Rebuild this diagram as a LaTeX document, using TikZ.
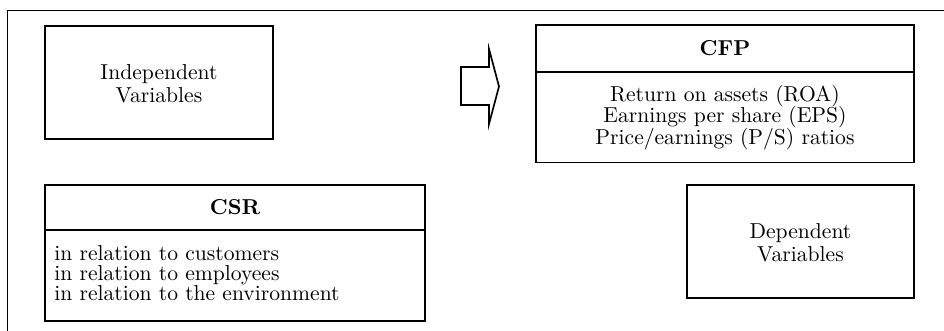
\documentclass[tikz,border=0pt]{standalone}
\begin{document}
\begin{tikzpicture}[x=0.5pt,y=-0.5pt,
  frameline/.style={draw, line width=0.85pt},
  box/.style={draw, line width=0.85pt, inner sep=0pt, outer sep=0pt},
  divider/.style={draw, line width=0.85pt},
  varlabel/.style={font=\fontsize{10.8}{11.5}\selectfont, align=center, inner sep=0pt},
  heading/.style={font=\fontsize{10.8}{12}\selectfont\bfseries, inner sep=0pt},
  itemsc/.style={font=\fontsize{10.8}{10.8}\selectfont, align=center, inner sep=0pt},
  itemsl/.style={font=\fontsize{10.8}{10}\selectfont, align=left, inner sep=0pt},
  blockarrow/.style={draw, line width=0.85pt, line join=miter}]
\useasboundingbox (0,0) rectangle (944,331);

% open frame: top and left rules
\draw[frameline] (944,10.5) -- (7.5,10.5) -- (7.5,331);

% boxes
\node[box, minimum width=114pt, minimum height=56.5pt] (indep) at (159,82.5) {};
\node[box, minimum width=189pt, minimum height=68.6pt] (cfp) at (725,93.9) {};
\node[box, minimum width=190pt, minimum height=68.1pt] (csr) at (235,252.9) {};
\node[box, minimum width=113.5pt, minimum height=56.6pt] (dep) at (800.5,241.4) {};

% header rules
\coordinate (cfpdiv) at (725,71.7);
\coordinate (csrdiv) at (235,230);
\draw[divider] (cfp.west |- cfpdiv) -- (cfp.east |- cfpdiv);
\draw[divider] (csr.west |- csrdiv) -- (csr.east |- csrdiv);

% texts
\node[varlabel] (indeptext) at (159,83.5) {Independent\\Variables};
\node[varlabel] (deptext) at (800.5,243) {Dependent\\Variables};
\node[heading] (cfptitle) at (725,48.5) {CFP};
\node[itemsc] (cfpbody) at (725,117.5) {Return on assets (ROA)\\Earnings per share (EPS)\\Price/earnings (P/S) ratios};
\node[heading] (csrtitle) at (235,207.5) {CSR};
\node[itemsl, anchor=west] (csrbody) at (54,273) {in relation to customers\\in relation to employees\\in relation to the environment};

% outlined block arrow
\draw[blockarrow] (461,67) -- (489,67) -- (489,49) -- (499,86.5) -- (489,124) -- (489,105) -- (461,105) -- cycle;
\end{tikzpicture}
\end{document}
